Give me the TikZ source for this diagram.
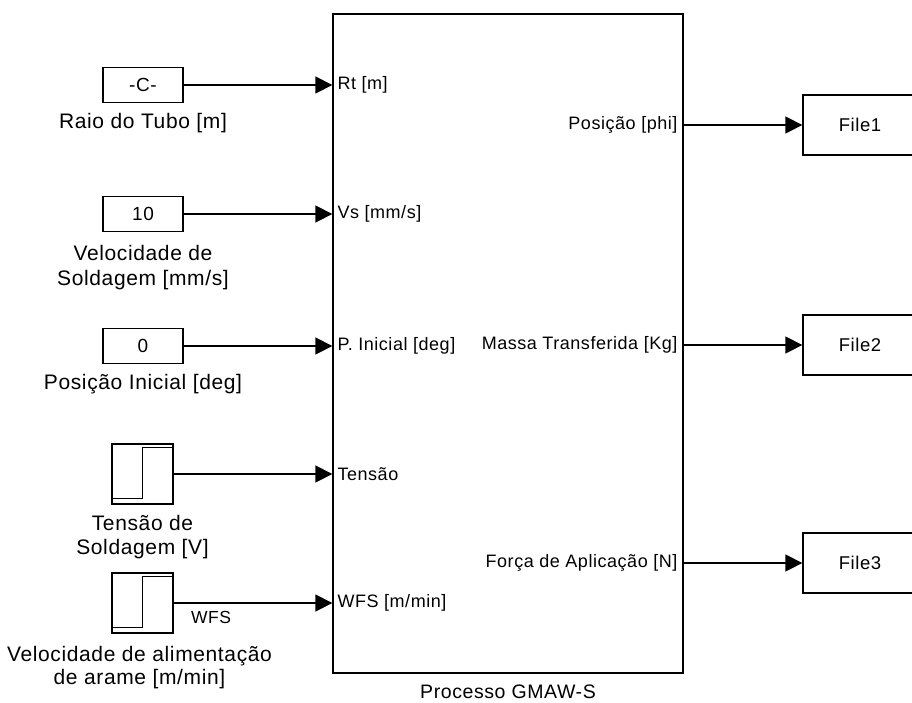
\documentclass[tikz,border=0pt]{standalone}
\usepackage{fontspec}
\setmainfont{Liberation Sans}[LetterSpace=3]
\usetikzlibrary{arrows.meta,positioning,calc}

\begin{document}
\begin{tikzpicture}[
          x=1pt, y=-1pt,
          blk/.style={draw, line width=1.3pt, minimum width=80pt, minimum height=35pt, font=\fontsize{19}{20}\selectfont},
          stepblk/.style={draw, line width=1.3pt, minimum width=61pt, minimum height=60pt},
          filebox/.style={draw, line width=1.3pt, minimum width=114pt, minimum height=60pt, font=\fontsize{18.5}{20}\selectfont},
          lbl/.style={font=\fontsize{21}{24.5}\selectfont, align=center},
          port/.style={font=\fontsize{18}{20}\selectfont, inner sep=0pt},
          sig/.style={-{Triangle[length=17pt,width=17pt]}, line width=1.3pt}
      ]
          \useasboundingbox (0,0) rectangle (912,702);
          \clip (0,0) rectangle (912,702);
          % main subsystem
          \node[draw, line width=1.3pt, minimum width=350pt, minimum height=659pt] (gmaw) at (508,343.5) {};
          \node[font=\fontsize{19.5}{22}\selectfont, below=8pt of gmaw] (gmawlbl) {Processo GMAW-S};

          % sources
          \node[blk] (raio) at (143,85) {-C-};
          \node[blk] (vel) at (143,214) {10};
          \node[blk] (pos) at (143,346) {0};
          \node[stepblk] (tensao) at (142.5,474) {};
          \node[stepblk] (wfs) at (142.5,603) {};
          \foreach \s in {tensao,wfs} {
              \draw[line width=1.1pt] ([xshift=1pt,yshift=6pt]\s.south west) -| ([yshift=-4pt]\s.north)
                  -- ([yshift=-4pt]\s.north east);
          }
          \node[lbl, below=7pt of raio] (raiolbl) {Raio do Tubo [m]};
          \node[lbl, below=10pt of vel] (vellbl) {Velocidade de\\Soldagem [mm/s]};
          \node[lbl, below=7pt of pos] (poslbl) {Posição Inicial [deg]};
          \node[lbl, below=7pt of tensao] (tensaolbl) {Tensão de\\Soldagem [V]};
          \node[lbl, below=9pt of wfs, xshift=-3pt, font=\fontsize{21}{23.5}\selectfont] (wfslbl) {Velocidade de alimentação\\de arame [m/min]};

          % input ports
          \node[port, anchor=west, xshift=5pt] (prt) at (gmaw.west |- raio) {Rt [m]};
          \node[port, anchor=west, xshift=5pt] (pvs) at (gmaw.west |- vel) {Vs [mm/s]};
          \node[port, anchor=west, xshift=5pt] (ppi) at (gmaw.west |- pos) {P. Inicial [deg]};
          \node[port, anchor=west, xshift=5pt] (pten) at (gmaw.west |- tensao) {Tensão};
          \node[port, anchor=west, xshift=5pt] (pwfs) at (gmaw.west |- wfs) {WFS [m/min]};
          \draw[sig] (raio) -- (gmaw.west |- raio);
          \draw[sig] (vel) -- (gmaw.west |- vel);
          \draw[sig] (pos) -- (gmaw.west |- pos);
          \draw[sig] (tensao) -- (gmaw.west |- tensao);
          \draw[sig] (wfs) -- (gmaw.west |- wfs);
          \node[font=\fontsize{17.5}{20}\selectfont] (wfssig) at (211,617) {WFS};

          % outputs
          \node[filebox] (file1) at (860,125) {File1};
          \node[filebox] (file2) at (860,345) {File2};
          \node[filebox] (file3) at (860,563) {File3};
          \node[port, anchor=east, xshift=-6pt] (pphi) at (gmaw.east |- file1) {Posição [phi]};
          \node[port, anchor=east, xshift=-6pt] (pmassa) at (gmaw.east |- file2) {Massa Transferida [Kg]};
          \node[port, anchor=east, xshift=-6pt] (pforca) at (gmaw.east |- file3) {Força de Aplicação [N]};
          \draw[sig] (gmaw.east |- file1) -- (file1);
          \draw[sig] (gmaw.east |- file2) -- (file2);
          \draw[sig] (gmaw.east |- file3) -- (file3);
      \end{tikzpicture}
\end{document}
